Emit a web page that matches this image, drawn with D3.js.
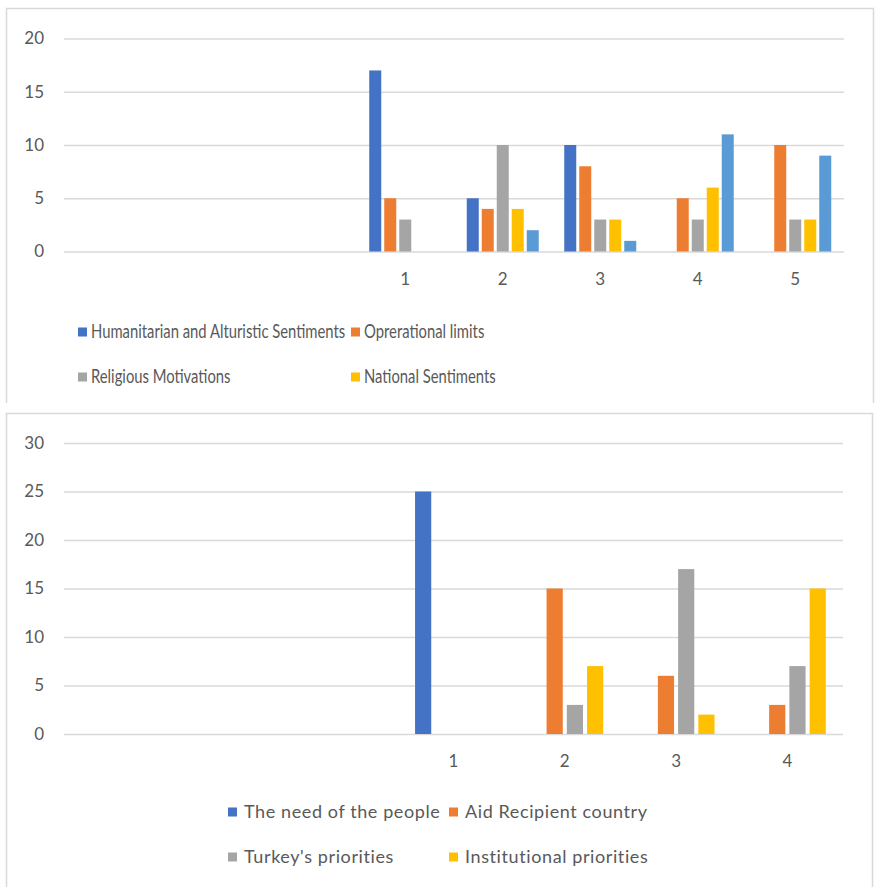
<!DOCTYPE html>
<html>
<head>
<meta charset="utf-8">
<script src="https://cdn.jsdelivr.net/npm/d3@7/dist/d3.min.js"></script>
<style>
  html, body { margin: 0; padding: 0; background: #fff; }
  svg { display: block; }
  text { font-family: Lato, "Open Sans", sans-serif; fill: #595959; }
</style>
</head>
<body>
<svg id="chart" width="875" height="887"></svg>
<script>
// ---- Chart 1: motivations ----
const topCategories = ["", "", "", "1", "2", "3", "4", "5"];
const topSeriesNames = [
  "Humanitarian and Alturistic Sentiments",
  "Oprerational limits",
  "Religious Motivations",
  "National Sentiments",
  ""
];
const topHumanitarian = [null, null, null, 17, 5, 10, 0, 0];
const topOperational  = [null, null, null, 5, 4, 8, 5, 10];
const topReligious    = [null, null, null, 3, 10, 3, 3, 3];
const topNational     = [null, null, null, 0, 4, 3, 6, 3];
const topFifth        = [null, null, null, 0, 2, 1, 11, 9];
const topTicks = [0, 5, 10, 15, 20];

// ---- Chart 2: priorities ----
const bottomCategories = ["", "", "", "1", "2", "3", "4"];
const bottomSeriesNames = [
  "The need of the people",
  "Aid Recipient country",
  "Turkey's priorities",
  "Institutional priorities"
];
const bottomNeed          = [null, null, null, 25, 0, 0, 0];
const bottomRecipient     = [null, null, null, 0, 15, 6, 3];
const bottomTurkey        = [null, null, null, 0, 3, 17, 7];
const bottomInstitutional = [null, null, null, 0, 7, 2, 15];
const bottomTicks = [0, 5, 10, 15, 20, 25, 30];

const palette = ["#4472C4", "#ED7D31", "#A5A5A5", "#FFC000", "#5B9BD5"];
const gridColor = "#D9D9D9";

const svg = d3.select("#chart");

// Panel frames (the upper panel is cut off at its lower edge)
svg.append("path")
  .attr("d", "M6.5,403 V8.5 H873.5 V403")
  .attr("fill", "none").attr("stroke", gridColor).attr("stroke-width", 1.5);
svg.append("path")
  .attr("d", "M6.5,887 V413.5 H872.5 V887")
  .attr("fill", "none").attr("stroke", gridColor).attr("stroke-width", 1.5);

function drawPanel(cfg) {
  const g = svg.append("g");
  const x = d3.scaleBand()
    .domain(d3.range(cfg.categories.length))
    .range([cfg.left, cfg.right]);
  const y = d3.scaleLinear()
    .domain([0, d3.max(cfg.ticks)])
    .range([cfg.bottom, cfg.top]);

  // horizontal gridlines + value labels
  const yAxis = d3.axisLeft(y)
    .tickValues(cfg.ticks)
    .tickSize(-(cfg.right - cfg.left))
    .tickPadding(20)
    .tickFormat(d3.format("d"));
  const ya = g.append("g").attr("transform", `translate(${cfg.left},0)`).call(yAxis);
  ya.select(".domain").remove();
  ya.selectAll("line").attr("stroke", gridColor).attr("stroke-width", 1.6);
  ya.selectAll("text").attr("font-size", 17).style("fill", "#595959")
    .attr("font-family", "Lato, 'Open Sans', sans-serif");

  // category labels
  const xAxis = d3.axisBottom(x)
    .tickSize(0)
    .tickPadding(cfg.labelPad)
    .tickFormat(i => cfg.categories[i]);
  const xa = g.append("g").attr("transform", `translate(0,${cfg.bottom})`).call(xAxis);
  xa.select(".domain").remove();
  xa.selectAll("text").attr("font-size", 17).style("fill", "#595959")
    .attr("font-family", "Lato, 'Open Sans', sans-serif");

  // clustered bars
  const n = cfg.series.length;
  const groupWidth = x.bandwidth() * n / (n + 1.5);
  const inner = d3.scaleBand()
    .domain(d3.range(n))
    .range([0, groupWidth])
    .paddingInner(cfg.innerPad)
    .paddingOuter(cfg.innerPad / 2);

  cfg.series.forEach((vals, s) => {
    g.append("g").selectAll("rect")
      .data(vals.map((v, i) => ({ v, i })).filter(d => d.v))
      .join("rect")
      .attr("x", d => x(d.i) + (x.bandwidth() - groupWidth) / 2 + inner(s))
      .attr("width", inner.bandwidth())
      .attr("y", d => y(d.v))
      .attr("height", d => y(0) - y(d.v))
      .attr("fill", palette[s]);
  });

  // legend (two columns)
  cfg.legend.forEach((name, k) => {
    const col = k % 2, row = Math.floor(k / 2);
    const lx = cfg.legendX[col], ly = cfg.legendY[row];
    const lg = g.append("g").attr("transform", `translate(${lx},${ly})`);
    lg.append("rect").attr("x", 0).attr("y", -4.5).attr("width", 9).attr("height", 9)
      .attr("fill", palette[k]);
    lg.append("text")
      .attr("transform", `translate(${cfg.legendGap},0) scale(${cfg.legendStretch},1)`)
      .attr("dy", "0.35em")
      .attr("font-size", cfg.legendFont)
      .attr("letter-spacing", cfg.legendSpacing)
      .text(name);
  });
}

drawPanel({
  categories: topCategories,
  series: [topHumanitarian, topOperational, topReligious, topNational, topFifth],
  ticks: topTicks,
  left: 64, right: 844, top: 38.5, bottom: 251.5,
  labelPad: 21, innerPad: 0.2,
  legend: topSeriesNames.slice(0, 4),
  legendX: [78, 351], legendY: [332, 377],
  legendFont: 18.5, legendStretch: 0.8, legendSpacing: 0, legendGap: 13
});

drawPanel({
  categories: bottomCategories,
  series: [bottomNeed, bottomRecipient, bottomTurkey, bottomInstitutional],
  ticks: bottomTicks,
  left: 64, right: 843, top: 443, bottom: 734,
  labelPad: 21, innerPad: 0.2,
  legend: bottomSeriesNames,
  legendX: [228, 449], legendY: [812, 857],
  legendFont: 18, legendStretch: 1, legendSpacing: 0.6, legendGap: 16
});
</script>
</body>
</html>
